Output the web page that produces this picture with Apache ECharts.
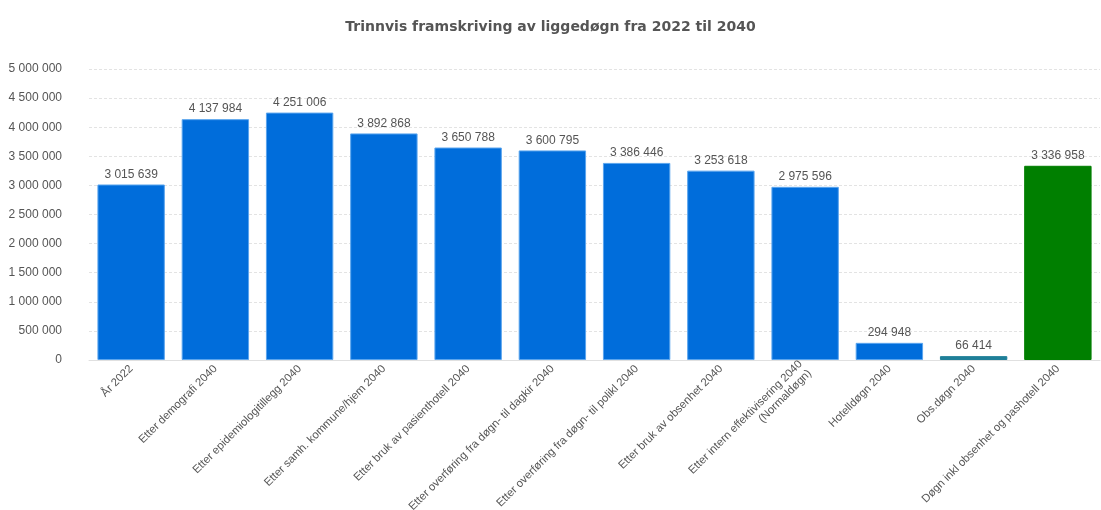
<!DOCTYPE html>
<html>
<head>
<meta charset="utf-8">
<script src="https://cdn.jsdelivr.net/npm/echarts@6/dist/echarts.min.js"></script>
<style>html,body{margin:0;padding:0;background:#fff}#c{width:1101px;height:510px}</style>
</head>
<body>
<div id="c"></div>
<script>
const categories = [
  "År 2022",
  "Etter demografi 2040",
  "Etter epidemiologitillegg 2040",
  "Etter samh. kommune/hjem 2040",
  "Etter bruk av pasienthotell 2040",
  "Etter overføring fra døgn- til dagkir 2040",
  "Etter overføring fra døgn- til polikl 2040",
  "Etter bruk av obsenhet 2040",
  "Etter intern effektivisering 2040\n(Normaldøgn)",
  "Hotelldøgn 2040",
  "Obs.døgn 2040",
  "Døgn inkl obsenhet og pashotell 2040"
];
const values = [3015639, 4137984, 4251006, 3892868, 3650788, 3600795, 3386446, 3253618, 2975596, 294948, 66414, 3336958];
const barColors = ["#006ddb","#006ddb","#006ddb","#006ddb","#006ddb","#006ddb","#006ddb","#006ddb","#006ddb","#006ddb","#1f7f99","#007f00"];
const borderColors = ["#5aa5ee","#5aa5ee","#5aa5ee","#5aa5ee","#5aa5ee","#5aa5ee","#5aa5ee","#5aa5ee","#5aa5ee","#5aa5ee","#1f7f99","#007f00"];
const yTicks = [0, 500000, 1000000, 1500000, 2000000, 2500000, 3000000, 3500000, 4000000, 4500000, 5000000];

function fmt(v){ return String(v).replace(/\B(?=(\d{3})+(?!\d))/g, " "); }

const chart = echarts.init(document.getElementById('c'));
chart.setOption({
  animation: false,
  title: {
    text: "Trinnvis framskriving av liggedøgn fra 2022 til 2040",
    left: 'center', top: 15,
    textStyle: {fontFamily: 'DejaVu Sans', fontSize: 14, fontWeight: 'bold', color: '#555'}
  },
  grid: {left: 89, right: 1, top: 69, bottom: 150, containLabel: false, outerBoundsMode: 'none'},
  xAxis: {
    type: 'category',
    data: categories,
    axisTick: {show: false},
    axisLine: {show: true, lineStyle: {color: '#e0e0e0'}},
    axisLabel: {interval: 0, rotate: 45, fontFamily: 'Liberation Sans', fontSize: 11.3, color: '#555', margin: 7, align: 'right', lineHeight: 13}
  },
  yAxis: {
    type: 'value',
    min: 0, max: 5000000, interval: 500000,
    axisLine: {show: false},
    axisTick: {show: false},
    splitLine: {lineStyle: {color: '#e3e3e3', type: [3, 2]}},
    axisLabel: {fontFamily: 'Liberation Sans', fontSize: 12, color: '#555', margin: 27, formatter: v => fmt(v)}
  },
  series: [{
    type: 'bar',
    barWidth: '80%',
    data: values.map((v, i) => ({value: v, itemStyle: {color: barColors[i], borderColor: borderColors[i], borderWidth: 1}})),
    label: {show: true, position: 'top', distance: 4, fontFamily: 'Liberation Sans', fontSize: 12, color: '#555', formatter: p => fmt(p.value)}
  }]
});
</script>
</body>
</html>
